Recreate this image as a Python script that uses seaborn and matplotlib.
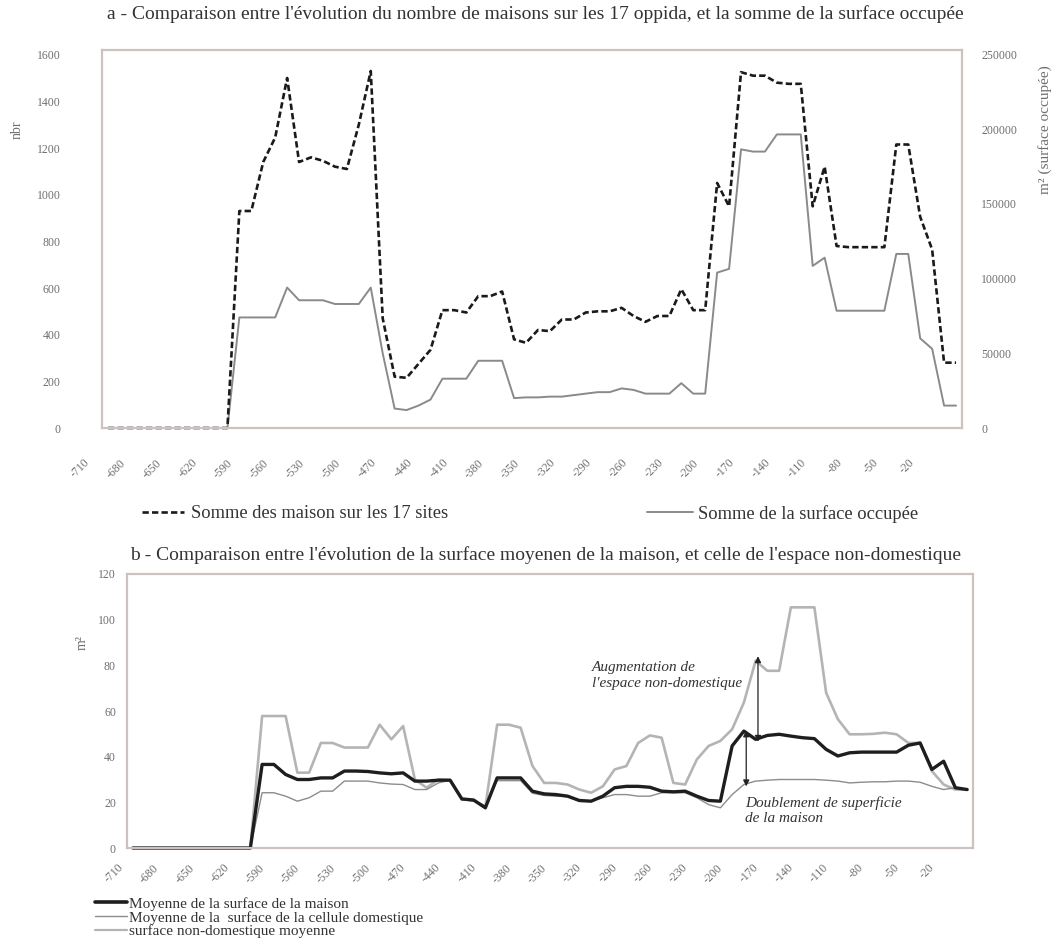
import numpy as np
import matplotlib
matplotlib.use("Agg")
import matplotlib.pyplot as plt
import matplotlib.transforms as mtransforms
from matplotlib.lines import Line2D
import seaborn as sns

# --- data (one value per 10-year step) ---
tick_labels = ["-710", "-680", "-650", "-620", "-590", "-560", "-530", "-500",
               "-470", "-440", "-410", "-380", "-350", "-320", "-290", "-260",
               "-230", "-200", "-170", "-140", "-110", "-80", "-50", "-20"]

nbr_maisons = [0] * 11 + [
    930, 930, 1140, 1245, 1500, 1140, 1160, 1145, 1120, 1110, 1300, 1530,
    470, 220, 215, 275, 335, 505, 505, 495, 565, 565, 585, 380, 365, 420,
    415, 465, 465, 495, 500, 500, 515, 480, 455, 480, 480, 595, 505, 505,
    1050, 950, 1525, 1510, 1510, 1480, 1475, 1475, 950, 1120, 780, 775,
    775, 775, 775, 1215, 1215, 905, 765, 280, 280]

surface_occupee = [0] * 11 + [
    74000, 74000, 74000, 74000, 94000, 85500, 85500, 85500, 83000, 83000,
    83000, 94000, 50000, 13000, 12000, 15000, 19000, 33000, 33000, 33000,
    45000, 45000, 45000, 20000, 20500, 20500, 21000, 21000, 22000, 23000,
    24000, 24000, 26500, 25500, 23000, 23000, 23000, 30000, 23000, 23000,
    104000, 106500, 186500, 185000, 185000, 196500, 196500, 196500, 108500,
    114000, 78500, 78500, 78500, 78500, 78500, 116500, 116500, 60000, 53000,
    15000, 15000]

surf_maison = [0] * 11 + [
    36.6, 36.6, 32.2, 30, 30, 30.7, 30.7, 33.7, 33.7, 33.5, 32.9, 32.5,
    32.9, 29.3, 29.3, 29.7, 29.7, 21.5, 21, 17.6, 30.7, 30.7, 30.7, 24.9,
    23.7, 23.4, 22.7, 20.8, 20.5, 22.7, 26.4, 27, 27, 26.6, 24.9, 24.6,
    24.9, 22.7, 20.8, 20.5, 44.7, 51.2, 47.6, 49.3, 49.8, 49, 48.3, 47.9,
    43.2, 40.3, 41.7, 42, 42, 42, 42, 45, 46, 34.4, 38, 26.4, 25.6]

surf_cellule = [0] * 11 + [
    24.2, 24.2, 22.7, 20.5, 22, 24.9, 24.9, 29.3, 29.3, 29.3, 28.5, 28,
    27.8, 25.6, 25.6, 28.5, 29.7, 21.2, 20.5, 18.5, 29.5, 29.5, 29.5, 24,
    23, 22.7, 22.5, 20.5, 20.5, 22, 23.4, 23.4, 22.7, 22.7, 24.2, 24.2,
    24.2, 22, 19, 17.6, 23.4, 27.8, 29.3, 29.7, 30, 30, 30, 30, 29.7, 29.3,
    28.5, 28.8, 29, 29, 29.3, 29.3, 28.8, 27, 25.6, 26.4, 25.6]

surf_non_dom = [0] * 11 + [
    57.8, 57.8, 57.8, 33, 33, 46, 46, 44, 44, 44, 54, 47.6, 53.4, 30, 26.4,
    30, 29.7, 21.2, 21, 18, 54, 54, 52.7, 36, 28.5, 28.5, 27.8, 25.6, 24.2,
    27, 34.4, 35.9, 46, 49.3, 48.3, 28.5, 27.8, 38.8, 44.7, 46.9, 52, 63.7,
    82, 77.6, 77.6, 105.4, 105.4, 105.4, 68, 56.4, 49.8, 49.8, 50, 50.5,
    49.8, 46, 46, 33.7, 27.8, 25.6, 25.6]

idx = np.arange(len(nbr_maisons))

sns.set_theme(style="white")
plt.rcParams["font.family"] = ["Liberation Serif", "DejaVu Serif"]

W, H = 1057, 947
fig = plt.figure(figsize=(W / 100, H / 100), dpi=100)


def fx(px):
    return px / W


def fy(py):
    return 1 - py / H


FRAME = "#cbc3bf"
TICKC = "#6f6f6f"
TXT = "#333333"


def style_axes(ax):
    for s in ax.spines.values():
        s.set_color(FRAME)
        s.set_linewidth(1.6)
    ax.tick_params(length=0, colors=TICKC, labelsize=8.5)
    ax.set_xlim(-0.5, len(idx) - 0.5)
    ax.set_xticks(idx[::3])
    ax.set_xticklabels(tick_labels, rotation=45, ha="right", va="center",
                       rotation_mode="anchor")


def shift_xlabels(ax, dx, dy):
    off = mtransforms.ScaledTranslation(dx / 100, dy / 100, fig.dpi_scale_trans)
    for lbl in ax.get_xticklabels():
        lbl.set_transform(lbl.get_transform() + off)


# ---------------- panel a ----------------
ax1 = fig.add_axes([fx(102), fy(428), fx(860), (428 - 50) / H])
ax2 = ax1.twinx()
style_axes(ax1)
for s in ax2.spines.values():
    s.set_visible(False)

sns.lineplot(x=idx, y=surface_occupee, ax=ax2, color="#8a8a8a",
             linewidth=1.4, clip_on=False)
sns.lineplot(x=idx, y=nbr_maisons, ax=ax1, color="#1a1a1a", linewidth=1.9,
             linestyle=(0, (2.4, 1.2)), clip_on=False)
ax1.set_zorder(ax2.get_zorder() + 1)
ax1.patch.set_visible(False)

ax1.set_ylim(0, 1620)
ax1.set_yticks(np.arange(0, 1601, 200))
ax2.set_ylim(0, 253000)
ax2.set_yticks(np.arange(0, 250001, 50000))
ax1.tick_params(axis="y", pad=30)
ax1.tick_params(axis="x", pad=0)
ax2.tick_params(length=0, colors=TICKC, labelsize=8.5, pad=14)
ax1.set_ylabel("")
ax2.set_ylabel("")
shift_xlabels(ax1, -20, -33)

fig.text(fx(535), fy(14), "a - Comparaison entre l'évolution du nombre de maisons "
         "sur les 17 oppida, et la somme de la surface occupée",
         ha="center", va="center", fontsize=14, color=TXT)
fig.text(fx(17), fy(130), "nbr", rotation=90, ha="center", va="center",
         fontsize=10, color=TICKC)
fig.text(fx(1045), fy(130), "m² (surface occupée)", rotation=90, ha="center",
         va="center", fontsize=11, color=TICKC)

leg_a1 = fig.legend(handles=[Line2D([], [], color="#1a1a1a", lw=1.9,
                                    ls=(0, (2.4, 1.2)))],
                    labels=["Somme des maison sur les 17 sites"],
                    loc="center left", bbox_to_anchor=(fx(142), fy(514)),
                    frameon=False, fontsize=13.3, handlelength=2.3,
                    handletextpad=0.35, borderpad=0, borderaxespad=0)
leg_a2 = fig.legend(handles=[Line2D([], [], color="#8a8a8a", lw=1.4)],
                    labels=["Somme de la surface occupée"],
                    loc="center left", bbox_to_anchor=(fx(647), fy(514)),
                    frameon=False, fontsize=13.3, handlelength=2.5,
                    handletextpad=0.25, borderpad=0, borderaxespad=0)
for t in leg_a1.get_texts() + leg_a2.get_texts():
    t.set_color(TXT)

# ---------------- panel b ----------------
ax3 = fig.add_axes([fx(127), fy(848), fx(846), (848 - 574) / H])
style_axes(ax3)
sns.lineplot(x=idx, y=surf_non_dom, ax=ax3, color="#b4b4b4", linewidth=1.9,
             clip_on=False)
sns.lineplot(x=idx, y=surf_cellule, ax=ax3, color="#8c8c8c", linewidth=1.0,
             clip_on=False)
sns.lineplot(x=idx, y=surf_maison, ax=ax3, color="#1e1e1e", linewidth=2.4,
             clip_on=False)
ax3.set_ylim(0, 120)
ax3.set_yticks(np.arange(0, 121, 20))
ax3.tick_params(axis="y", pad=8)
ax3.tick_params(axis="x", pad=0)
ax3.set_ylabel("")
shift_xlabels(ax3, -11, -18)

fig.text(fx(546), fy(555), "b - Comparaison entre l'évolution de la surface moyenen "
         "de la maison, et celle de l'espace non-domestique",
         ha="center", va="center", fontsize=14, color=TXT)
fig.text(fx(82), fy(643), "m²", rotation=90, ha="center", va="center",
         fontsize=10, color=TICKC)

# annotations
ax3.annotate("", xy=(53.2, 84), xytext=(53.2, 46.5),
             arrowprops=dict(arrowstyle="<|-|>", color="#222222", lw=0.9,
                             mutation_scale=9, shrinkA=0, shrinkB=0))
ax3.annotate("", xy=(52.2, 51.5), xytext=(52.2, 27),
             arrowprops=dict(arrowstyle="<|-|>", color="#222222", lw=0.9,
                             mutation_scale=9, shrinkA=0, shrinkB=0))
fig.text(fx(592), fy(661), "Augmentation de\nl'espace non-domestique",
         ha="left", va="top", fontsize=11, style="italic", color=TXT,
         linespacing=1.25)
fig.text(fx(745), fy(796), "Doublement de superficie\nde la maison",
         ha="left", va="top", fontsize=11, style="italic", color=TXT,
         linespacing=1.25)

leg_b = fig.legend(handles=[Line2D([], [], color="#1e1e1e", lw=2.6),
                            Line2D([], [], color="#8c8c8c", lw=1.0),
                            Line2D([], [], color="#b4b4b4", lw=1.6)],
                   labels=["Moyenne de la surface de la maison",
                           "Moyenne de la  surface de la cellule domestique",
                           "surface non-domestique moyenne"],
                   loc="upper left", bbox_to_anchor=(fx(95), fy(897)),
                   frameon=False, fontsize=11, handlelength=2.1,
                   handletextpad=0.1, labelspacing=0.0, borderpad=0,
                   borderaxespad=0)
for t in leg_b.get_texts():
    t.set_color(TXT)

fig.savefig("out.png", dpi=100)
